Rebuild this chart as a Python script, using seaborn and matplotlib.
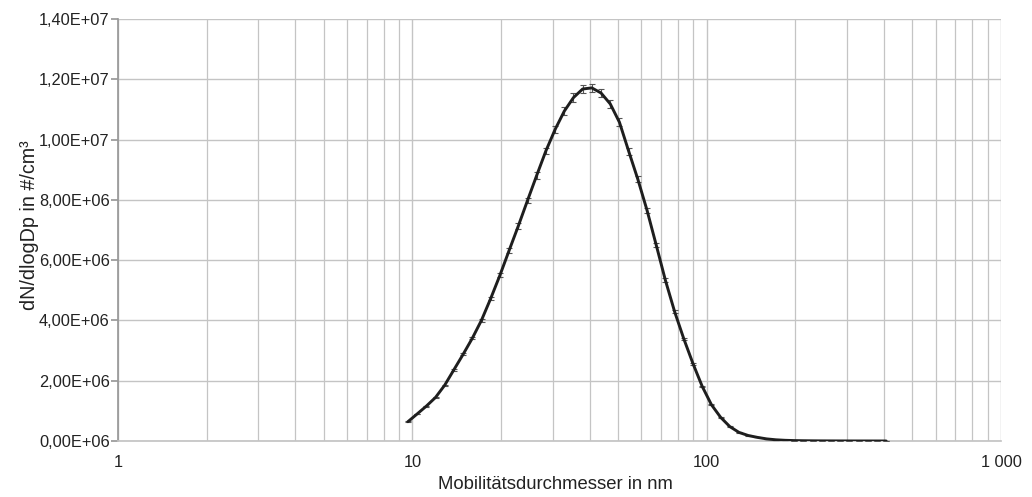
import matplotlib
matplotlib.use("Agg")
import matplotlib.pyplot as plt
import seaborn as sns
import pandas as pd
from matplotlib.ticker import FixedLocator, NullFormatter

# ---- data ----
diameter_nm = [9.66, 10.38, 11.16, 11.99, 12.88, 13.84, 14.88, 15.99, 17.18, 18.46,
               19.84, 21.32, 22.91, 24.62, 26.45, 28.42, 30.55, 32.82, 35.27, 37.90,
               40.73, 43.77, 47.04, 50.55, 54.32, 58.37, 62.72, 67.40, 72.43, 77.83,
               83.64, 89.88, 96.58, 103.79, 111.53, 119.85, 128.79, 138.40, 148.73, 159.82,
               171.75, 184.56, 198.33, 213.12, 229.02, 246.10, 264.46, 284.19, 305.39, 328.18,
               352.66, 378.97, 407.24]
dN_dlogDp = [6.40e5, 8.96e5, 1.158e6, 1.446e6, 1.851e6, 2.362e6, 2.876e6, 3.410e6, 4.008e6, 4.727e6,
             5.497e6, 6.320e6, 7.133e6, 7.979e6, 8.808e6, 9.621e6, 1.0334e7, 1.0941e7, 1.1392e7, 1.1678e7,
             1.1714e7, 1.1545e7, 1.1183e7, 1.0573e7, 9.617e6, 8.682e6, 7.654e6, 6.499e6, 5.328e6, 4.290e6,
             3.387e6, 2.564e6, 1.811e6, 1.204e6, 7.86e5, 4.78e5, 2.85e5, 1.82e5, 1.20e5, 7.0e4,
             4.0e4, 2.3e4, 1.4e4, 9.0e3, 6.0e3, 4.0e3, 3.0e3, 2.0e3, 1.5e3, 1.0e3,
             8.0e2, 6.0e2, 5.0e2]
error = [7.7e3, 1.1e4, 1.4e4, 1.7e4, 2.2e4, 2.8e4, 3.5e4, 4.1e4, 4.8e4, 5.7e4,
         6.6e4, 7.6e4, 8.6e4, 9.6e4, 1.06e5, 1.15e5, 1.24e5, 1.31e5, 1.37e5, 1.40e5,
         1.41e5, 1.39e5, 1.34e5, 1.27e5, 1.15e5, 1.04e5, 9.2e4, 7.8e4, 6.4e4, 5.1e4,
         4.1e4, 3.1e4, 2.2e4, 1.4e4, 9.4e3, 5.7e3, 3.4e3, 2.2e3, 1.4e3, 8.0e2,
         5.0e2, 3.0e2, 2.0e2, 1.0e2, 1.0e2, 1.0e2, 1.0e2, 1.0e2, 1.0e2, 1.0e2,
         1.0e2, 1.0e2, 1.0e2]

x_ticks = [1, 10, 100, 1000]
x_tick_labels = ["1", "10", "100", "1 000"]
y_ticks = [0, 2e6, 4e6, 6e6, 8e6, 1e7, 1.2e7, 1.4e7]
y_tick_labels = ["0,00E+06", "2,00E+06", "4,00E+06", "6,00E+06",
                 "8,00E+06", "1,00E+07", "1,20E+07", "1,40E+07"]
x_label = "Mobilitätsdurchmesser in nm"
y_label = "dN/dlogDp in #/cm³"

df = pd.DataFrame({"d": diameter_nm, "v": dN_dlogDp, "e": error})

sns.set_theme(style="white")
plt.rcParams["font.family"] = ["Liberation Sans", "DejaVu Sans"]

fig = plt.figure(figsize=(10.32, 4.97), dpi=100)
ax = fig.add_axes([118 / 1032, 1 - 441 / 497, (1001 - 118) / 1032, (441 - 19) / 497])

ax.set_xscale("log")
ax.set_xlim(1, 1000)
ax.set_ylim(0, 1.4e7)

grid_color = "#c4c4c4"
ax.xaxis.set_major_locator(FixedLocator(x_ticks))
ax.xaxis.set_minor_locator(FixedLocator([m * 10 ** k for k in range(0, 3) for m in range(2, 10)]))
ax.xaxis.set_minor_formatter(NullFormatter())
ax.set_xticks(x_ticks, x_tick_labels)
ax.set_yticks(y_ticks, y_tick_labels)
ax.grid(which="major", axis="both", color=grid_color, linewidth=1.0)
ax.grid(which="minor", axis="x", color=grid_color, linewidth=0.9)
ax.set_axisbelow(True)

ax.errorbar(df["d"], df["v"], yerr=df["e"], fmt="none", ecolor="#555555",
            elinewidth=0.8, capsize=2.3, capthick=0.8, zorder=3)
sns.lineplot(data=df, x="d", y="v", ax=ax, color="#1e1e1e", linewidth=2.1, zorder=4)

for s in ["top", "right"]:
    ax.spines[s].set_visible(False)
ax.spines["left"].set_color("#999999")
ax.spines["bottom"].set_color(grid_color)
ax.tick_params(axis="y", which="major", left=True, length=5, color="#999999",
               labelsize=11.8, labelcolor="#222222", pad=1)
ax.tick_params(axis="x", which="both", bottom=False, labelsize=11.8,
               labelcolor="#222222", pad=4)

ax.set_xlabel(x_label, fontsize=13.3, color="#222222", va="baseline")
ax.xaxis.set_label_coords(0.4949, -0.1137)
ax.set_ylabel(y_label, fontsize=14.2, color="#222222", va="center")
ax.yaxis.set_label_coords(-0.1, 0.512)

fig.savefig("out.png", dpi=100)
